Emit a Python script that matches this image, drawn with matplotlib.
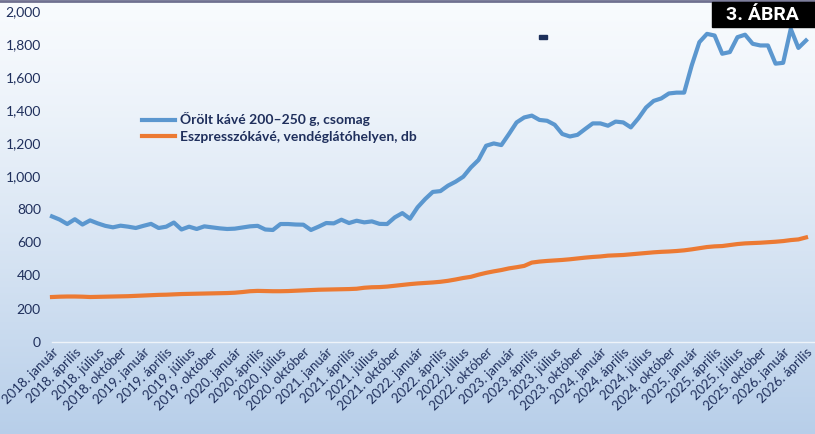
import numpy as np
import matplotlib.pyplot as plt
from matplotlib.patches import Rectangle
from matplotlib.ticker import FuncFormatter

plt.rcParams['font.family'] = ['Lato', 'DejaVu Sans']

# monthly data, 2018 January .. 2026 April
years = list(range(2018, 2027))
quarter_months = ['január', 'április', 'július', 'október']

orolt_kave = [
    757, 738, 711, 740, 708, 733, 715, 700, 691, 701, 695, 687,
    700, 712, 687, 695, 720, 678, 695, 681, 697, 691, 685, 681,
    683, 690, 697, 700, 678, 675, 711, 711, 708, 707, 675, 695,
    717, 715, 737, 717, 731, 721, 727, 712, 711, 751, 777, 743,
    812, 862, 905, 910, 943, 967, 997, 1053, 1098, 1184, 1198, 1188,
    1255, 1325, 1355, 1366, 1340, 1335, 1311, 1255, 1240, 1250, 1285, 1319,
    1319, 1305, 1330, 1325, 1295, 1350, 1415, 1455, 1470, 1500, 1505, 1505,
    1670, 1810, 1860, 1850, 1740, 1750, 1840, 1855, 1800, 1790, 1790, 1680,
    1685, 1890, 1775, 1820,
]
eszpresszo = [
    270, 272, 273, 273, 272, 270, 271, 272, 273, 274, 275, 277,
    279, 281, 283, 284, 286, 288, 289, 290, 291, 292, 293, 294,
    296, 300, 305, 307, 306, 305, 305, 306, 308, 310, 312, 314,
    315, 316, 317, 318, 320, 326, 329, 330, 333, 338, 343, 348,
    352, 355, 358, 362, 368, 376, 385, 392, 405, 416, 425, 433,
    443, 450, 458, 478, 484, 488, 491, 494, 498, 503, 508, 512,
    515, 520, 522, 524, 528, 532, 536, 540, 543, 545, 548, 552,
    558, 565, 572, 576, 578, 584, 590, 594, 596, 598, 601, 604,
    608, 614, 618, 630,
]
series_labels = ['Őrölt kávé 200–250 g, csomag',
                 'Eszpresszókávé, vendéglátóhelyen, db']

n = len(orolt_kave)
tick_labels = [f'{y}. {m}' for y in years for m in quarter_months][:(n + 2) // 3]

text_col = '#1f2f5c'

fig = plt.figure(figsize=(8.15, 4.34), dpi=100)

# background gradient
bg = fig.add_axes([0, 0, 1, 1], zorder=-1)
t = np.linspace(0, 1, 256) ** 1.2
top = np.array([0.975, 0.985, 0.995])
bot = np.array([0.72, 0.81, 0.915])
grad = top[None, :] * (1 - t[:, None]) + bot[None, :] * t[:, None]
bg.imshow(grad[:, None, :], aspect='auto', extent=[0, 1, 0, 1])
bg.axis('off')
bg.axhline(0.998, color='#707090', lw=2)

ax = fig.add_axes([52 / 815, 1 - 341.7 / 434, (806 - 52) / 815, 331 / 434])
ax.patch.set_alpha(0)

x = np.arange(n)
ax.plot(x, orolt_kave, color='#5b97cf', lw=3, label=series_labels[0],
        clip_on=False, solid_joinstyle='round')
ax.plot(x, eszpresszo, color='#ec7a33', lw=3, label=series_labels[1],
        clip_on=False, solid_joinstyle='round')

ax.set_xlim(0, n - 1)
ax.set_ylim(0, 2000)
ax.set_yticks(range(0, 2001, 200))
ax.yaxis.set_major_formatter(FuncFormatter(lambda v, p: f'{v:,.0f}'))
ax.set_xticks(range(0, n, 3))
ax.set_xticklabels(tick_labels, rotation=45, ha='right', rotation_mode='anchor')
ax.tick_params(axis='both', length=0, colors=text_col)
ax.tick_params(axis='y', labelsize=10, pad=8)
ax.tick_params(axis='x', labelsize=9.5, pad=3)
for s in ax.spines.values():
    s.set_visible(False)
ax.axhline(0, xmin=0, xmax=1.02, color='#eef3f9', lw=1, clip_on=False, zorder=0)

leg = ax.legend(loc='center left', bbox_to_anchor=(136 / 815, 1 - 127.5 / 434),
                bbox_transform=fig.transFigure, frameon=False, borderaxespad=0,
                handlelength=2.4, handletextpad=0.35, labelspacing=0.3,
                prop={'weight': 'bold', 'size': 10})
for txt in leg.get_texts():
    txt.set_color(text_col)

# figure label box
fig.patches.append(Rectangle((712 / 815, 1 - 27 / 434), 103 / 815, 25 / 434,
                             transform=fig.transFigure, color='black'))
fig.text(762 / 815, 1 - 14.5 / 434, '3. ÁBRA', color='white', fontsize=14,
         fontweight='bold', family=['Roboto', 'DejaVu Sans'],
         ha='center', va='center')
fig.patches.append(Rectangle((539 / 815, 1 - 39 / 434), 8 / 815, 4 / 434,
                             transform=fig.transFigure, color='#1c2f5a'))

fig.savefig('out.png', dpi=100)
